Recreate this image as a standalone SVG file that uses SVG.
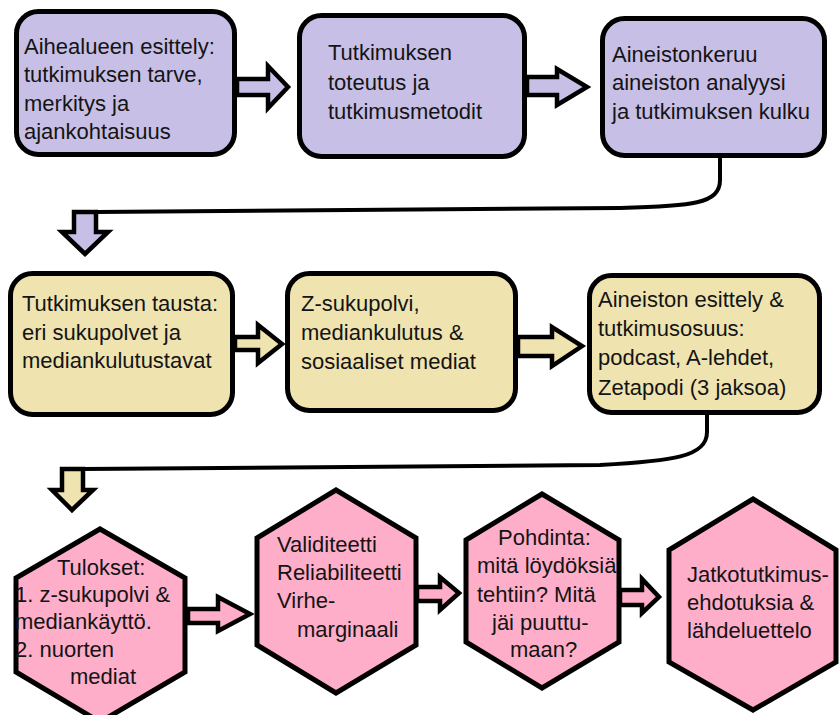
<svg xmlns="http://www.w3.org/2000/svg" width="839" height="715" viewBox="0 0 839 715">
<style>
.box{stroke:#000;stroke-width:5;stroke-linejoin:round}
.pu{fill:#C8BFE7}
.ye{fill:#EFE4B0}
.pi{fill:#FFAEC9}
.hex{stroke:#000;stroke-width:5;stroke-linejoin:miter}
.arr{stroke:#000;stroke-width:4.5;stroke-linejoin:miter}
.conn{fill:none;stroke:#000;stroke-width:4;stroke-linecap:butt}
text{font-family:"Liberation Sans",Arial,sans-serif;font-size:22px;fill:#141414}
</style>
<rect width="839" height="715" fill="#fff"/>

<g id="connectors">
  <path class="conn" d="M720,158 L720,180 C720,204 692,206 620,208 L96,212"/>
  <path class="conn" d="M707,415 L707,432 C707,457 672,461 600,465 L83,469"/>
  <polygon class="arr pu" points="237,79 268,79 268,66 288,87 268,108 268,95 237,95"/>
  <polygon class="arr pu" points="527,77 557,77 557,69 587,87 557,105 557,95 527,95"/>
  <polygon class="arr pu" points="74,212 96,212 96,232 108,232 85,254 62,232 74,232"/>
  <polygon class="arr ye" points="235,337 258,337 258,325 282,344 258,363 258,350 235,350"/>
  <polygon class="arr ye" points="518,337 552,337 552,327 582,346 552,366 552,356 518,356"/>
  <polygon class="arr ye" points="62,469 83,469 83,490 93,490 72,510 52,490 62,490"/>
  <polygon class="arr pi" points="188,609 218,609 218,597 250,614 218,631 218,623 188,623"/>
  <polygon class="arr pi" points="417,587 440,587 440,577 459,593 440,610 440,601 417,601"/>
  <polygon class="arr pi" points="620,590 642,590 642,579 659,597 642,613 642,605 620,605"/>
</g>

<g id="n1">
  <rect class="box pu" x="16.5" y="11.5" width="218" height="143" rx="22"/>
  <text x="24" y="54">Aihealueen esittely:</text>
  <text x="24" y="82">tutkimuksen tarve,</text>
  <text x="24" y="111">merkitys ja</text>
  <text x="24" y="139">ajankohtaisuus</text>
</g>
<g id="n2">
  <rect class="box pu" x="299.5" y="15.5" width="225" height="141" rx="22"/>
  <text x="328" y="60">Tutkimuksen</text>
  <text x="328" y="90">toteutus ja</text>
  <text x="328" y="119">tutkimusmetodit</text>
</g>
<g id="n3">
  <rect class="box pu" x="602.5" y="18.5" width="222" height="137" rx="22"/>
  <text x="612" y="62">Aineistonkeruu</text>
  <text x="612" y="90">aineiston analyysi</text>
  <text x="612" y="119">ja tutkimuksen kulku</text>
</g>

<g id="n4">
  <rect class="box ye" x="10.5" y="273.5" width="222" height="141" rx="22"/>
  <text x="22" y="311">Tutkimuksen tausta:</text>
  <text x="22" y="340">eri sukupolvet ja</text>
  <text x="22" y="368">mediankulutustavat</text>
</g>
<g id="n5">
  <rect class="box ye" x="287.5" y="273.5" width="228" height="137" rx="22"/>
  <text x="301" y="311">Z-sukupolvi,</text>
  <text x="301" y="340">mediankulutus &amp;</text>
  <text x="301" y="369">sosiaaliset mediat</text>
</g>
<g id="n6">
  <rect class="box ye" x="589.5" y="275.5" width="230" height="137" rx="22"/>
  <text x="598" y="307">Aineiston esittely &amp;</text>
  <text x="598" y="336">tutkimusosuus:</text>
  <text x="598" y="365">podcast, A-lehdet,</text>
  <text x="598" y="395">Zetapodi (3 jaksoa)</text>
</g>

<g id="n7">
  <polygon class="hex pi" points="100,529 185,578 185,672 100,722 16,672 16,578"/>
  <text x="57" y="575">Tulokset:</text>
  <text x="15" y="602">1. z-sukupolvi &amp;</text>
  <text x="15" y="629">mediankäyttö.</text>
  <text x="15" y="657">2. nuorten</text>
  <text x="70" y="684">mediat</text>
</g>
<g id="n8">
  <polygon class="hex pi" points="336,490 416,538 416,645 336,693 257,645 257,538"/>
  <text x="277" y="552">Validiteetti</text>
  <text x="277" y="580">Reliabiliteetti</text>
  <text x="277" y="608">Virhe-</text>
  <text x="297" y="637">marginaali</text>
</g>
<g id="n9">
  <polygon class="hex pi" points="542,494 619,540 619,642 542,688 466,642 466,540"/>
  <text x="498" y="545">Pohdinta:</text>
  <text x="477" y="573">mitä löydöksiä</text>
  <text x="477" y="602">tehtiin? Mitä</text>
  <text x="492" y="630">jäi puuttu-</text>
  <text x="510" y="657">maan?</text>
</g>
<g id="n10">
  <polygon class="hex pi" points="753,499 836,550 836,662 753,710 669,662 669,550"/>
  <text x="687" y="582">Jatkotutkimus-</text>
  <text x="687" y="610">ehdotuksia &amp;</text>
  <text x="687" y="638">lähdeluettelo</text>
</g>
</svg>
